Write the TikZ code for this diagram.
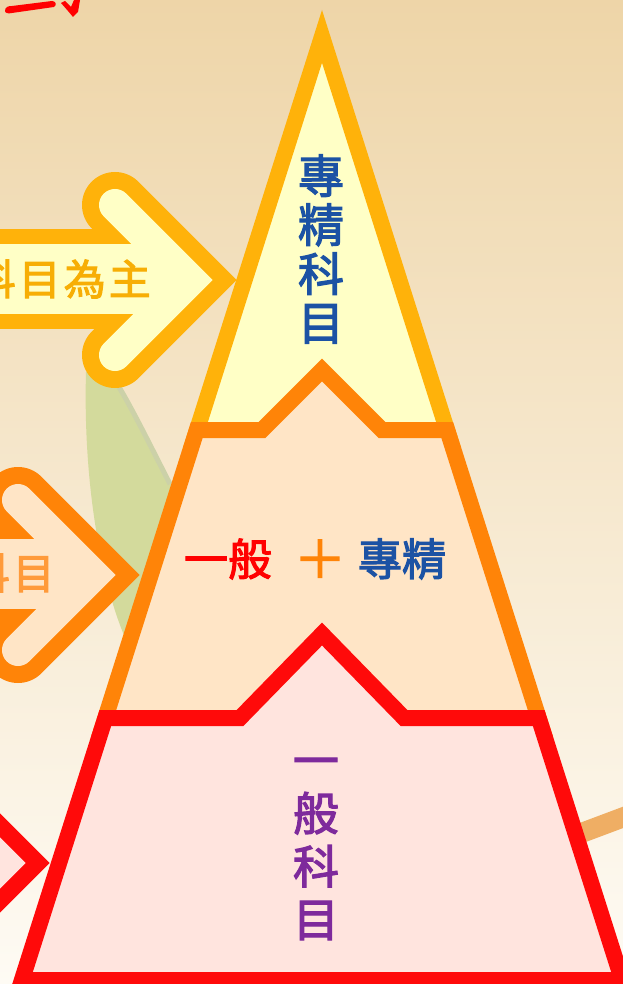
\documentclass[tikz,border=0pt]{standalone}
\usepackage{fontspec}
\newfontfamily\cjk[FakeBold=2.5]{Noto Sans CJK TC}
\definecolor{bgtop}{HTML}{EED5A8}
\definecolor{bgmid}{HTML}{F4E5CB}
\definecolor{bgbot}{HTML}{FEFBF4}
\definecolor{leafgreen}{HTML}{D3DA9C}
\definecolor{leafshade}{HTML}{CCD1A8}
\definecolor{tanline}{HTML}{EFAE64}
\definecolor{ylo}{HTML}{FFB20A}
\definecolor{ylf}{HTML}{FFFFC6}
\definecolor{ylt}{HTML}{F7AE05}
\definecolor{oro}{HTML}{FF8408}
\definecolor{orf}{HTML}{FFE5C6}
\definecolor{ort}{HTML}{FF9A3A}
\definecolor{rdo}{HTML}{FF0A0A}
\definecolor{rdf}{HTML}{FFE4DE}
\definecolor{bluetxt}{HTML}{1C52A4}
\definecolor{purpletxt}{HTML}{7E2A9C}
\tikzset{
  outl/.style={line width=66pt, line cap=round, line join=miter},
  innl/.style={line width=32pt, line cap=round, line join=miter},
  edge/.style={line width=16pt, line join=miter, line cap=butt},
  cjktxt/.style={inner sep=0pt, align=center},
}
\newcommand\myarrow[4]{%
  \begin{scope}[shift={(#1,#2)}]
    \fill[#3] (-320,-51) rectangle (-67,49);
    \draw[#3, outl] (-122,-75) -- (-47,0) -- (-122,75);
    \fill[#4] (-320,-36) rectangle (-67,34);
    \draw[#4, innl] (-122,-75) -- (-47,0) -- (-122,75);
  \end{scope}}
\begin{document}
\begin{tikzpicture}[x=1pt,y=-1pt]
\useasboundingbox (0,0) rectangle (623,984);
\clip (0,0) rectangle (623,984);
\shade[top color=bgtop, middle color=bgmid, bottom color=bgbot] (0,0) rectangle (623,984);
% red fragments of a cut-off title
\fill[red] (5,11) .. controls (5,7) and (8,6) .. (12,6) -- (52,1) .. controls (56,1) and (57,5) .. (54,7) -- (12,13) .. controls (8,14) and (5,13) .. (5,11) -- cycle;
\fill[red] (61,3) -- (65,1) -- (71,7) -- (74,0) -- (80,0) -- (78,12) -- (73,17) -- (68,11) -- cycle;
% green leaf shape
\fill[leafgreen] (86,372) .. controls (83,480) and (100,580) .. (126,640) -- (210,500) -- (172,485) .. controls (150,440) and (130,400) .. (112,372) -- cycle;
\draw[leafshade, line width=5pt] (116,382) .. controls (132,408) and (150,445) .. (170,484);
% tan line at right
\draw[tanline, line width=20pt] (560,841) -- (640,811);
% arrows
\myarrow{237}{280}{ylo}{ylf}
\myarrow{140}{575}{oro}{orf}
\myarrow{50}{863}{rdo}{rdf}
\node[cjktxt, anchor=east, text=ylt, font=\cjk\fontsize{42}{42}\selectfont] (a1) at (151,279) {科\hspace{3pt}目\hspace{3pt}為\hspace{3pt}主};
\node[cjktxt, anchor=east, text=ort, font=\cjk\fontsize{42}{42}\selectfont] (a2) at (55,573) {科\hspace{3pt}目};
% pyramid: top triangle
\fill[ylf] (322,36) -- (456.6,460) -- (187.4,460) -- cycle;
\draw[ylo, edge] (190.6,450) -- (322,36.4) -- (453.4,450);
% middle layer
\fill[orf] (196.8,430) -- (262,430) -- (322,370) -- (382,430) -- (447.2,430) -- (545,740) -- (99,740) -- cycle;
\draw[oro, edge] (98.3,740) -- (196.8,430) -- (262,430) -- (322,370) -- (382,430) -- (447.2,430) -- (545.7,740);
% bottom layer
\filldraw[rdo, fill=rdf, edge] (105.3,718) -- (240,718) -- (322,634) -- (404,718) -- (538.7,718) -- (622.1,980) -- (21.9,980) -- cycle;
% texts
\node[cjktxt, text=bluetxt, font=\cjk\fontsize{46}{49}\selectfont] (top) at (321,249) {專\\精\\科\\目};
\node[cjktxt, text=red, font=\cjk\fontsize{44}{44}\selectfont] (mid1) at (228,559) {一般};
\node[cjktxt, text=oro, font=\cjk\fontsize{52}{52}\selectfont] (mid2) at (320,559) {＋};
\node[cjktxt, text=bluetxt, font=\cjk\fontsize{44}{44}\selectfont] (mid3) at (402,559) {專精};
\node[cjktxt, text=purpletxt, font=\cjk\fontsize{46}{53}\selectfont] (bot) at (316,849) {一\\般\\科\\目};
\end{tikzpicture}
\end{document}
